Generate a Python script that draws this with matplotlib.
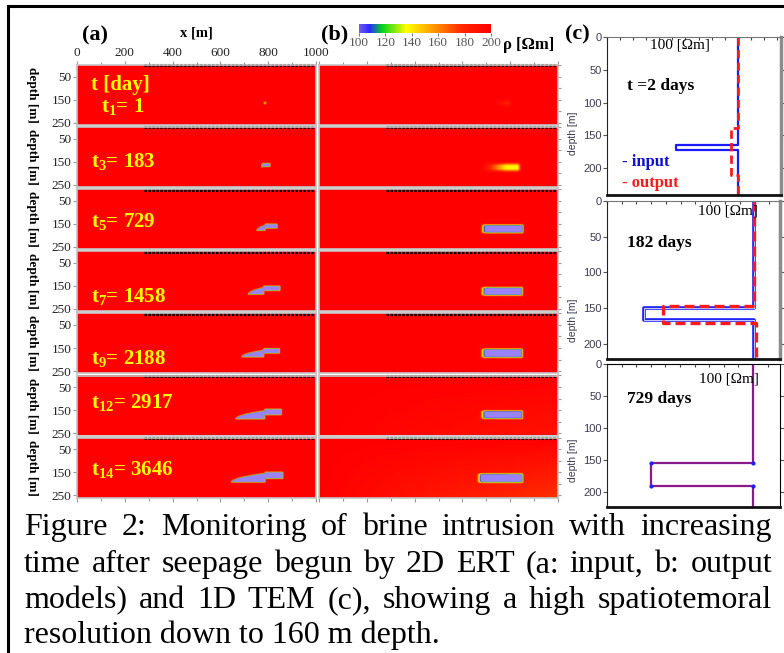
import numpy as np
import matplotlib
matplotlib.use('Agg')
import matplotlib.pyplot as plt
from matplotlib.colors import LinearSegmentedColormap, Normalize
from matplotlib.ticker import MultipleLocator
from matplotlib.lines import Line2D

plt.rcParams['font.family'] = ['Liberation Serif', 'DejaVu Serif']
plt.rcParams['mathtext.fontset'] = 'custom'
plt.rcParams['mathtext.rm'] = 'Liberation Serif'
plt.rcParams['mathtext.bf'] = 'Liberation Serif:bold'
plt.rcParams['mathtext.it'] = 'Liberation Serif:italic'

# ---- data ----
times = [1, 183, 729, 1458, 2188, 2917, 3646]
steps = [1, 3, 5, 7, 9, 12, 14]

# input model (a): brine body (lens) + thin tail, x in m, depth in m
in_left = [782, 772, 752, 716, 689, 664, 644]
in_split = [782, 776, 788, 782, 782, 786, 788]
in_right = [792, 808, 838, 850, 849, 856, 863]
in_body_bot = [170, 174, 180, 188, 192, 192, 193]
in_body_top = [160, 158, 156, 158, 162, 156, 152]
in_tail_top = [160, 158, 152, 152, 155, 150, 148]
in_tail_bot = [170, 172, 170, 172, 176, 174, 176]
in_amp = [45, 110, 110, 110, 110, 110, 110]

# output model (b): inverted anomaly
out_rim = [735, 682, 676, 674, 674, 674, 660]
out_left = [790, 785, 695, 695, 695, 695, 682]
out_right = [800, 840, 854, 853, 852, 852, 852]
out_top = [155, 160, 155, 157, 158, 157, 156]
out_bot = [175, 190, 190, 192, 195, 190, 193]
out_amp = [18, 62, 110, 110, 110, 110, 110]
out_blur = [9, 9, 5, 5, 5, 5, 5]
out_tilt = [0, 0, 0, 0, 0, 10, 25]

electrode_start, electrode_end = 280, 1000

# 1D TEM profiles (c)
c_days = ['t =2 days', '182 days', '729 days']
c1_in_z = [0, 165, 165, 172, 172, 240]
c1_in_rho = [200, 200, 105, 105, 200, 200]
c1_out_z = [0, 139, 139, 211, 211, 240]
c1_out_rho = [200, 200, 190, 190, 200, 200]
c2_in_z = [0, 150, 150, 166, 166, 222]
c2_in_rho = [200, 200, 50, 50, 200, 200]
c2_out_z = [0, 147, 147, 170, 170, 222]
c2_out_rho = [200, 200, 76, 76, 202, 202]
c3_z = [0, 155, 155, 190, 190, 224]
c3_rho = [200, 200, 60, 60, 200, 200]

caption_lines = [
    "Figure 2: Monitoring of brine intrusion with increasing",
    "time after seepage begun by 2D ERT (a: input, b: output",
    "models) and 1D TEM (c), showing a high spatiotemoral",
    "resolution down to 160 m depth.",
]

# ---- figure ----
W, H = 784, 653
fig = plt.figure(figsize=(W / 100, H / 100), dpi=100)
fig.patch.set_facecolor('white')


def ax_px(x0, y0, x1, y1):
    return fig.add_axes([x0 / W, 1 - y1 / H, (x1 - x0) / W, (y1 - y0) / H])


def ftext(x, y, s, **kw):
    return fig.text(x / W, 1 - y / H, s, **kw)


cmap = LinearSegmentedColormap.from_list('rho', [
    (0.0, '#7058f2'), (0.08, '#2a2aff'), (0.17, '#00d020'),
    (0.36, '#ffff00'), (0.55, '#ffa000'), (0.78, '#ff2800'), (1.0, '#ff0000')])
cmap.set_under('#9b82f7')
norm = Normalize(100, 200)

xg = np.arange(0, 1001, 2.0)
zg = np.arange(0, 261, 2.0)
X, Z = np.meshgrid(xg, zg)


def blur(a, n):
    k = np.ones(n) / n
    a = np.apply_along_axis(lambda r: np.convolve(r, k, mode='same'), 1, a)
    a = np.apply_along_axis(lambda c: np.convolve(c, k, mode='same'), 0, a)
    return a


def input_model(i):
    l, s, r = in_left[i], in_split[i], in_right[i]
    bb, bt = in_body_bot[i], in_body_top[i]
    if s > l:
        frac = np.clip((X - l) / (s - l), 0, 1)
        top_line = bb - (bb - bt) * np.sqrt(frac)
    else:
        top_line = np.full_like(X, bt)
    body = (X >= l) & (X <= s) & (Z >= top_line) & (Z <= bb)
    tail = (X >= s) & (X <= r) & (Z >= in_tail_top[i]) & (Z <= in_tail_bot[i])
    f = blur((body | tail).astype(float), 3)
    return 200 - in_amp[i] * f


def output_model(i):
    ramp = np.clip((X - out_rim[i]) / (out_left[i] - out_rim[i]), 0, 1)
    box = (X <= out_right[i]) & (Z >= out_top[i]) & (Z <= out_bot[i])
    f = blur(ramp * box, out_blur[i])
    return 200 - out_amp[i] * f - out_tilt[i] * (X / 1000) * (Z / 260)


label_depth = [180, 150, 142, 195, 197, 115, 140]
tick_kw = dict(colors='#999999', labelcolor='#222222', labelsize=9.5, length=3, width=0.8)

im = None
for k in range(7):
    top = 65 + 62.1 * k
    bot = top + 60
    for col, (x0, x1) in enumerate([(77, 316), (319, 558)]):
        ax = ax_px(x0, top, x1, bot)
        rho = input_model(k) if col == 0 else output_model(k)
        im = ax.imshow(rho, cmap=cmap, norm=norm, extent=(0, 1000, 260, 0),
                       aspect='auto', interpolation='bilinear')
        ax.set_xlim(0, 1000)
        ax.set_ylim(260, 0)
        for sp in ax.spines.values():
            sp.set_color('#c4c4c4')
            sp.set_linewidth(1.2)
        ax.plot([electrode_start, electrode_end], [1.5, 1.5], color='k', lw=2.2,
                ls=(0, (0.8, 0.5)), clip_on=False, solid_capstyle='butt')
        ax.xaxis.set_major_locator(MultipleLocator(200))
        ax.xaxis.set_minor_locator(MultipleLocator(100))
        ax.set_yticks([50, 150, 250])
        ax.tick_params(axis='both', which='both', **tick_kw)
        ax.tick_params(which='minor', length=2)
        ax.tick_params(axis='x', which='both', bottom=(k == 6), top=(k == 0),
                       labelbottom=False, labeltop=(k == 0 and col == 0), pad=1)
        if col == 0:
            ax.tick_params(axis='y', left=True, right=False, labelleft=True, pad=1)
            for t in ax.get_yticklabels():
                t.set_fontsize(9.5)
            ax.text(-0.19, 0.5, 'depth [m]', transform=ax.transAxes, rotation=-90,
                    fontsize=9.5, fontweight='bold', ha='center', va='center')
            if k == 0:
                ax.text(58, 86, 't [day]', color='#ffff00', fontsize=15,
                        fontweight='bold', va='center')
            lab = rf'$\mathbf{{t_{{{steps[k]}}}}}$= {times[k]}'
            ax.text(100 if k == 0 else 58, label_depth[k], lab, color='#ffff00',
                    fontsize=15, fontweight='bold', va='center')
        else:
            ax.tick_params(axis='y', left=False, right=True, labelleft=False)
            ax.yaxis.set_minor_locator(MultipleLocator(50))
            ax.set_yticks([])
            ax.tick_params(axis='y', which='minor', right=True, left=False, length=2.5)

# colour bar
cax = ax_px(359, 24, 491, 33)
cb = fig.colorbar(im, cax=cax, orientation='horizontal')
cb.set_ticks([100, 120, 140, 160, 180, 200])
cb.outline.set_visible(False)
cax.tick_params(labelsize=9.5, length=2, colors='#777777', labelcolor='#555555', pad=1)

ftext(95, 35, '(a)', fontsize=16, fontweight='bold', ha='center', va='center')
ftext(335, 34, '(b)', fontsize=16, fontweight='bold', ha='center', va='center')
ftext(577, 34, '(c)', fontsize=16, fontweight='bold', ha='center', va='center')
ftext(196, 33, 'x [m]', fontsize=10.5, fontweight='bold', ha='center', va='center')
ftext(529, 45, 'ρ [Ωm]', fontsize=12, fontweight='bold', ha='center', va='center')

# 1D profiles
c_boxes = [(607, 37, 781, 195, 241, 266), (607, 201, 780, 359, 221, 235),
           (607, 364, 780, 507, 223, 237)]
c_axes = []
for i, (x0, y0, x1, y1, zmax, rmax) in enumerate(c_boxes):
    ax = ax_px(x0, y0, x1, y1)
    ax.set_xlim(0, rmax)
    ax.set_ylim(zmax, 0)
    ax.set_yticks([0, 50, 100, 150, 200])
    ax.xaxis.set_major_locator(MultipleLocator(20))
    ax.tick_params(axis='x', bottom=False, top=True, direction='in', length=2.5,
                   labelbottom=False, color='#444444')
    ax.tick_params(axis='y', left=True, right=True, length=3, color='#555555',
                   labelsize=8, labelcolor='#3c3c50', pad=1)
    for t in ax.get_yticklabels():
        t.set_fontfamily('Liberation Sans')
    ax.spines['left'].set_color('#222222')
    ax.spines['bottom'].set_color('#111111')
    ax.spines['bottom'].set_linewidth(2)
    if i < 2:
        ax.spines['right'].set_color('#8c8c8c')
        ax.spines['right'].set_linewidth(2.5)
        ax.spines['top'].set_color('#777777')
    c_axes.append(ax)

c1, c2, c3 = c_axes
c1.plot(c1_in_rho, c1_in_z, color='#1a1aff', lw=1.6)
c1.plot(c1_out_rho, c1_out_z, color='#ff1a1a', lw=2.0, dashes=(3, 1.5))
c2.plot(c2_in_rho, c2_in_z, color='#1a1aff', lw=2.6)
c2.plot(c2_in_rho, c2_in_z, color='#c0c8ff', lw=0.8)
c2.plot(c2_out_rho, c2_out_z, color='#ff1a1a', lw=2.4, dashes=(3, 1.5))
c3.plot(c3_rho, c3_z, color='#8a1a8a', lw=1.6)
c3.plot(c3_rho, c3_z, ls='none', marker='o', ms=2, color='#2020ff', markevery=[1, 2, 3, 4])

for (x, y) in [(680, 45), (728, 211), (729, 379)]:
    ftext(x, y, '100 [Ωm]', fontsize=11, ha='center', va='center')
for (y, s) in zip([86, 243, 399], c_days):
    ftext(627, y, s, fontsize=12.5, fontweight='bold', va='center')
ftext(622, 162, '- input', fontsize=12, fontweight='bold', color='#1010d0', va='center')
ftext(622, 183, '- output', fontsize=12, fontweight='bold', color='#ff1a1a', va='center')
for y in [133, 320, 460]:
    ftext(573, y, 'depth [m]', fontsize=7.5, color='#3c3c50', rotation=90,
          ha='center', va='center', family='Liberation Sans')

# frame
fig.add_artist(Line2D([8 / W, 1.01], [1 - 6 / H, 1 - 6 / H], color='k', lw=2.2))
fig.add_artist(Line2D([8 / W, 8 / W], [-0.01, 1 - 6 / H], color='k', lw=2.2))

# justified caption
renderer = fig.canvas.get_renderer()
cap_fs = 23
left_px, right_px = 24, 772
baselines = [535, 572, 608, 643]
for li, line in enumerate(caption_lines):
    yb = 1 - baselines[li] / H
    if li == len(caption_lines) - 1:
        fig.text(left_px / W, yb, line, fontsize=cap_fs, va='baseline')
        continue
    words = line.split()
    objs = [fig.text(0, yb, w, fontsize=cap_fs, va='baseline') for w in words]
    widths = [o.get_window_extent(renderer).width for o in objs]
    gap = (right_px - left_px - sum(widths)) / (len(words) - 1)
    x = left_px
    for o, w in zip(objs, widths):
        o.set_x(x / W)
        x += w + gap

fig.savefig('out.png', dpi=100)
